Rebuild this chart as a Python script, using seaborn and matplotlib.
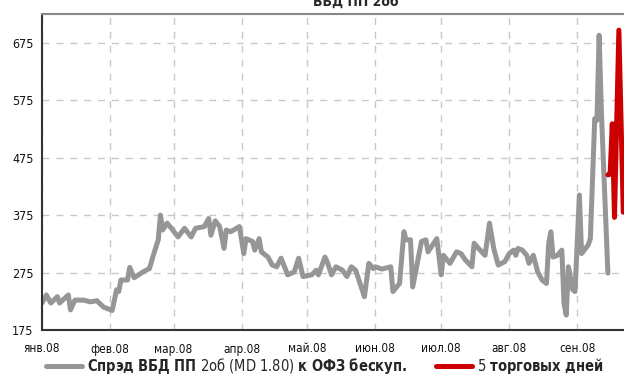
import pandas as pd
import numpy as np
import matplotlib
matplotlib.use("Agg")
import matplotlib.pyplot as plt
import seaborn as sns

# =====================================
# ДАННЫЕ
# =====================================

spread_dates = [
    "2008-01-01", "2008-01-03", "2008-01-05", "2008-01-08", "2008-01-09",
    "2008-01-13", "2008-01-14", "2008-01-16", "2008-01-20", "2008-01-23",
    "2008-01-26", "2008-01-29", "2008-02-02", "2008-02-04", "2008-02-05",
    "2008-02-06", "2008-02-09", "2008-02-10", "2008-02-12", "2008-02-16",
    "2008-02-19", "2008-02-21", "2008-02-23", "2008-02-24", "2008-02-25",
    "2008-02-27", "2008-02-29", "2008-03-03", "2008-03-06", "2008-03-09",
    "2008-03-11", "2008-03-15", "2008-03-17", "2008-03-18", "2008-03-20",
    "2008-03-22", "2008-03-24", "2008-03-25", "2008-03-27", "2008-03-31",
    "2008-04-02", "2008-04-03", "2008-04-06", "2008-04-07", "2008-04-09",
    "2008-04-10", "2008-04-13", "2008-04-15", "2008-04-17", "2008-04-19",
    "2008-04-22", "2008-04-25", "2008-04-27", "2008-04-29", "2008-05-03",
    "2008-05-05", "2008-05-06", "2008-05-09", "2008-05-10", "2008-05-12",
    "2008-05-14", "2008-05-17", "2008-05-19", "2008-05-21", "2008-05-23",
    "2008-05-27", "2008-05-29", "2008-05-31", "2008-06-01", "2008-06-04",
    "2008-06-08", "2008-06-09", "2008-06-12", "2008-06-14", "2008-06-15",
    "2008-06-17", "2008-06-18", "2008-06-22", "2008-06-24", "2008-06-25",
    "2008-06-29", "2008-07-01", "2008-07-02", "2008-07-05", "2008-07-08",
    "2008-07-10", "2008-07-12", "2008-07-15", "2008-07-16", "2008-07-18",
    "2008-07-21", "2008-07-23", "2008-07-25", "2008-07-27", "2008-07-30",
    "2008-08-01", "2008-08-03", "2008-08-04", "2008-08-05", "2008-08-07",
    "2008-08-09", "2008-08-10", "2008-08-12", "2008-08-14", "2008-08-16",
    "2008-08-18", "2008-08-19", "2008-08-20", "2008-08-21", "2008-08-23",
    "2008-08-25", "2008-08-26", "2008-08-27", "2008-08-28", "2008-08-30",
    "2008-08-31", "2008-09-02", "2008-09-03", "2008-09-06", "2008-09-07",
    "2008-09-09", "2008-09-10", "2008-09-11", "2008-09-12", "2008-09-15",
]
spread_values = [
    222, 236, 222, 233, 222, 236, 210, 227, 227, 224,
    226, 215, 209, 245, 242, 262, 262, 284, 266, 276,
    282, 308, 332, 375, 349, 361, 352, 337, 352, 337,
    352, 355, 369, 340, 365, 355, 317, 349, 346, 355,
    308, 334, 329, 314, 334, 311, 302, 288, 285, 300,
    271, 276, 300, 268, 271, 279, 271, 302, 294, 271,
    285, 279, 268, 285, 279, 233, 291, 282, 285, 281,
    285, 242, 256, 346, 332, 332, 250, 329, 332, 311,
    334, 271, 305, 291, 311, 308, 297, 285, 326, 317,
    305, 361, 316, 288, 294, 308, 314, 305, 317, 314,
    305, 291, 305, 276, 262, 256, 326, 346, 302, 305,
    314, 221, 201, 285, 245, 242, 410, 308, 323, 334,
    543, 540, 688, 558, 274,
]

last5_dates = ["2008-09-15", "2008-09-16", "2008-09-17", "2008-09-18",
               "2008-09-20", "2008-09-22"]
last5_values = [445, 446, 534, 371, 697, 380]

y_ticks = [175, 275, 375, 475, 575, 675]
x_tick_dates = ["2008-01-01", "2008-02-01", "2008-03-01", "2008-04-01",
                "2008-05-01", "2008-06-01", "2008-07-01", "2008-08-01",
                "2008-09-01"]
x_tick_labels = ["янв.08", "фев.08", "мар.08", "апр.08", "май.08",
                 "июн.08", "июл.08", "авг.08", "сен.08"]

title = "ВБД ПП 2об"
spread_label = r"$\mathbf{Спрэд\ ВБД\ ПП}$ 2об (MD 1.80) $\mathbf{к\ ОФЗ\ бескуп.}$"
last5_label = r"5 $\mathbf{торговых\ дней}$"

# =====================================
# СТИЛЬ
# =====================================

sns.set_style("whitegrid")
plt.rcParams["font.family"] = ["DejaVu Sans"]
plt.rcParams["font.stretch"] = "condensed"
plt.rcParams["mathtext.fontset"] = "custom"
plt.rcParams["mathtext.rm"] = "DejaVu Sans:stretch=condensed"
plt.rcParams["mathtext.bf"] = "DejaVu Sans:bold:stretch=condensed"

GRAY = "#969696"
RED = "#cc0000"

# =====================================
# ГРАФИК
# =====================================

spread = pd.DataFrame({"date": pd.to_datetime(spread_dates), "value": spread_values})
last5 = pd.DataFrame({"date": pd.to_datetime(last5_dates), "value": last5_values})

fig = plt.figure(figsize=(6.24, 3.74), dpi=100)
ax = fig.add_axes([42 / 624, 44 / 374, 601 / 624, 316 / 374])

sns.lineplot(data=spread, x="date", y="value", ax=ax, color=GRAY,
             linewidth=3.6, label=spread_label, solid_capstyle="round",
             solid_joinstyle="round")
sns.lineplot(data=last5, x="date", y="value", ax=ax, color=RED,
             linewidth=3.6, label=last5_label, solid_capstyle="round",
             solid_joinstyle="round")

ax.set_xlim(pd.Timestamp("2008-01-01"), pd.Timestamp("2008-10-01"))
ax.set_ylim(175, 725)
ax.set_yticks(y_ticks)
ax.set_xticks(pd.to_datetime(x_tick_dates))
ax.set_xticklabels(x_tick_labels)
ax.set_xlabel("")
ax.set_ylabel("")

ax.grid(True, color="#c8c8c8", linestyle=(0, (5, 5)), linewidth=1)
ax.tick_params(axis="both", which="major", direction="out", length=4,
               width=1, color="#333333", labelcolor="#111111")
ax.tick_params(axis="y", labelsize=9, pad=2)
ax.tick_params(axis="x", labelsize=8.5, pad=5)

for side in ["left", "bottom"]:
    ax.spines[side].set_color("#333333")
    ax.spines[side].set_linewidth(1.5)
ax.spines["top"].set_color("#888888")
ax.spines["top"].set_linewidth(1.5)
ax.spines["right"].set_visible(False)

fig.text(356 / 624, 1 - 6 / 374, title, ha="center", va="baseline",
         fontsize=10, fontweight="bold")

handles, labels = ax.get_legend_handles_labels()
ax.get_legend().remove()
fig.legend(handles, labels, loc="center left", ncol=2,
           bbox_to_anchor=(40 / 624, 8 / 374), frameon=False,
           fontsize=10.5, handlelength=2.5, handletextpad=0.3,
           columnspacing=2.0, borderaxespad=0)

fig.savefig("out.png", dpi=100)
